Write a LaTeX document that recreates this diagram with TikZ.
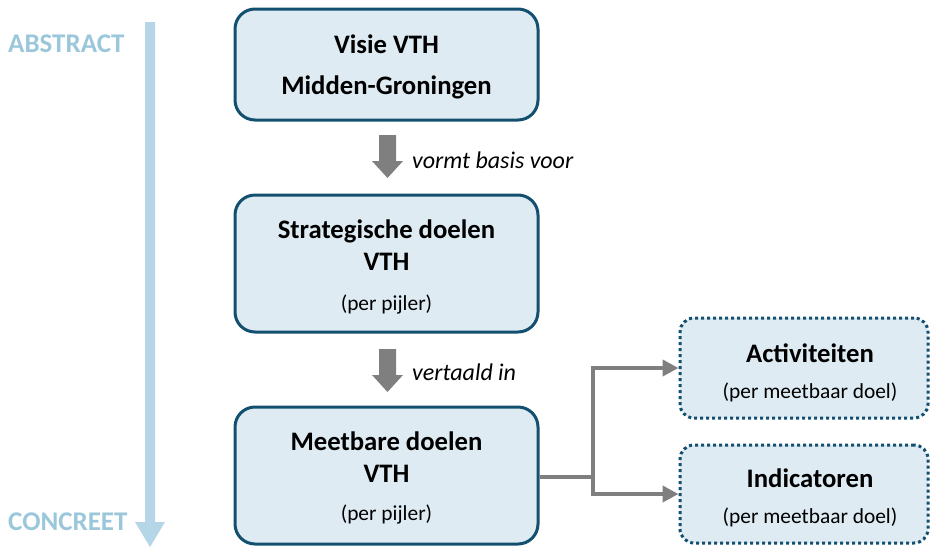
\documentclass[tikz,border=0pt]{standalone}
\usepackage{fontspec}
\setmainfont{Carlito}
\usetikzlibrary{arrows.meta}
\definecolor{boxfill}{HTML}{DEEBF3}
\definecolor{boxline}{HTML}{134F6F}
\definecolor{axisblue}{HTML}{B5D6E6}
\definecolor{axistext}{HTML}{9BC7DB}
\definecolor{arrowgray}{HTML}{7F7F7F}
\tikzset{
  mainbox/.style={draw=boxline, fill=boxfill, line width=3pt, rounded corners=20pt, inner sep=0pt},
  dotbox/.style={draw=boxline, fill=boxfill, line width=3pt, rounded corners=14pt, dash pattern=on 3pt off 3pt, inner sep=0pt},
  titletext/.style={font=\fontsize{26.7}{30}\selectfont\bfseries, anchor=base, inner sep=0pt},
  subtext/.style={font=\fontsize{21.4}{24}\selectfont, anchor=base, inner sep=0pt},
  labeltext/.style={font=\fontsize{24}{28}\selectfont\itshape, anchor=base west, inner sep=0pt},
  axislabel/.style={font=\fontsize{27}{30}\selectfont\bfseries, text=axistext, anchor=base west, inner sep=0pt},
  conn/.style={draw=arrowgray, line width=4pt, -{Triangle[length=16pt,width=16pt]}},
  blockarrow/.style={fill=arrowgray},
}
\begin{document}
\begin{tikzpicture}[x=1pt,y=-1pt]
\useasboundingbox (0,0) rectangle (930,547);

% abstract-concrete axis
\coordinate (axtop) at (150,22);
\coordinate (axbot) at (150,547);
\fill[axisblue] ([xshift=-5pt]axtop) -- ([xshift=5pt]axtop) -- ([xshift=5pt,yshift=25pt]axbot)
  -- ([xshift=15pt,yshift=25pt]axbot) -- (axbot) -- ([xshift=-15pt,yshift=25pt]axbot)
  -- ([xshift=-5pt,yshift=25pt]axbot) -- cycle;
\node[axislabel] (abstract) at (8,52) {ABSTRACT};
\node[axislabel] (concreet) at (8,530) {CONCREET};

% main boxes
\node[mainbox, minimum width=303pt, minimum height=111pt] (b1) at (386.5,64.5) {};
\node[mainbox, minimum width=303pt, minimum height=137pt] (b2) at (386.5,263.5) {};
\node[mainbox, minimum width=303pt, minimum height=137pt] (b3) at (386.5,475.5) {};

\node[titletext] (b1a) at (386.5,53) {Visie VTH};
\node[titletext] (b1b) at (386.5,94) {Midden-Groningen};

\node[titletext] (b2a) at (386.5,238) {Strategische doelen};
\node[titletext] (b2b) at (386.5,270) {VTH};
\node[subtext] (b2c) at (386.5,310) {(per pijler)};

\node[titletext] (b3a) at (386.5,450) {Meetbare doelen};
\node[titletext] (b3b) at (386.5,482) {VTH};
\node[subtext] (b3c) at (386.5,520) {(per pijler)};

% dotted boxes
\node[dotbox, minimum width=248pt, minimum height=100pt] (b4) at (804,368) {};
\node[dotbox, minimum width=248pt, minimum height=98pt] (b5) at (804,494) {};
\node[titletext] (b4a) at (810,362) {Activiteiten};
\node[subtext] (b4b) at (810,398) {(per meetbaar doel)};
\node[titletext] (b5a) at (810,487) {Indicatoren};
\node[subtext] (b5b) at (810,523) {(per meetbaar doel)};

% block arrows between main boxes
\coordinate (ar1) at (387.5,135);
\coordinate (ar2) at (387.5,349);
\foreach \a in {ar1,ar2}{
  \fill[blockarrow] ([xshift=-8.5pt]\a) -- ([xshift=8.5pt]\a) -- ([xshift=8.5pt,yshift=-26pt]\a)
    -- ([xshift=15.5pt,yshift=-26pt]\a) -- ([yshift=-43pt]\a) -- ([xshift=-15.5pt,yshift=-26pt]\a)
    -- ([xshift=-8.5pt,yshift=-26pt]\a) -- cycle;
}
\node[labeltext] (l1) at (412,168) {vormt basis voor};
\node[labeltext] (l2) at (412,380) {vertaald in};

% connectors
\coordinate (split) at (593,477);
\draw[draw=arrowgray, line width=4pt] (b3.east |- split) -- (split);
\draw[conn] (split) |- (b4.west);
\draw[conn] (split) |- (b5.west);
\end{tikzpicture}
\end{document}
